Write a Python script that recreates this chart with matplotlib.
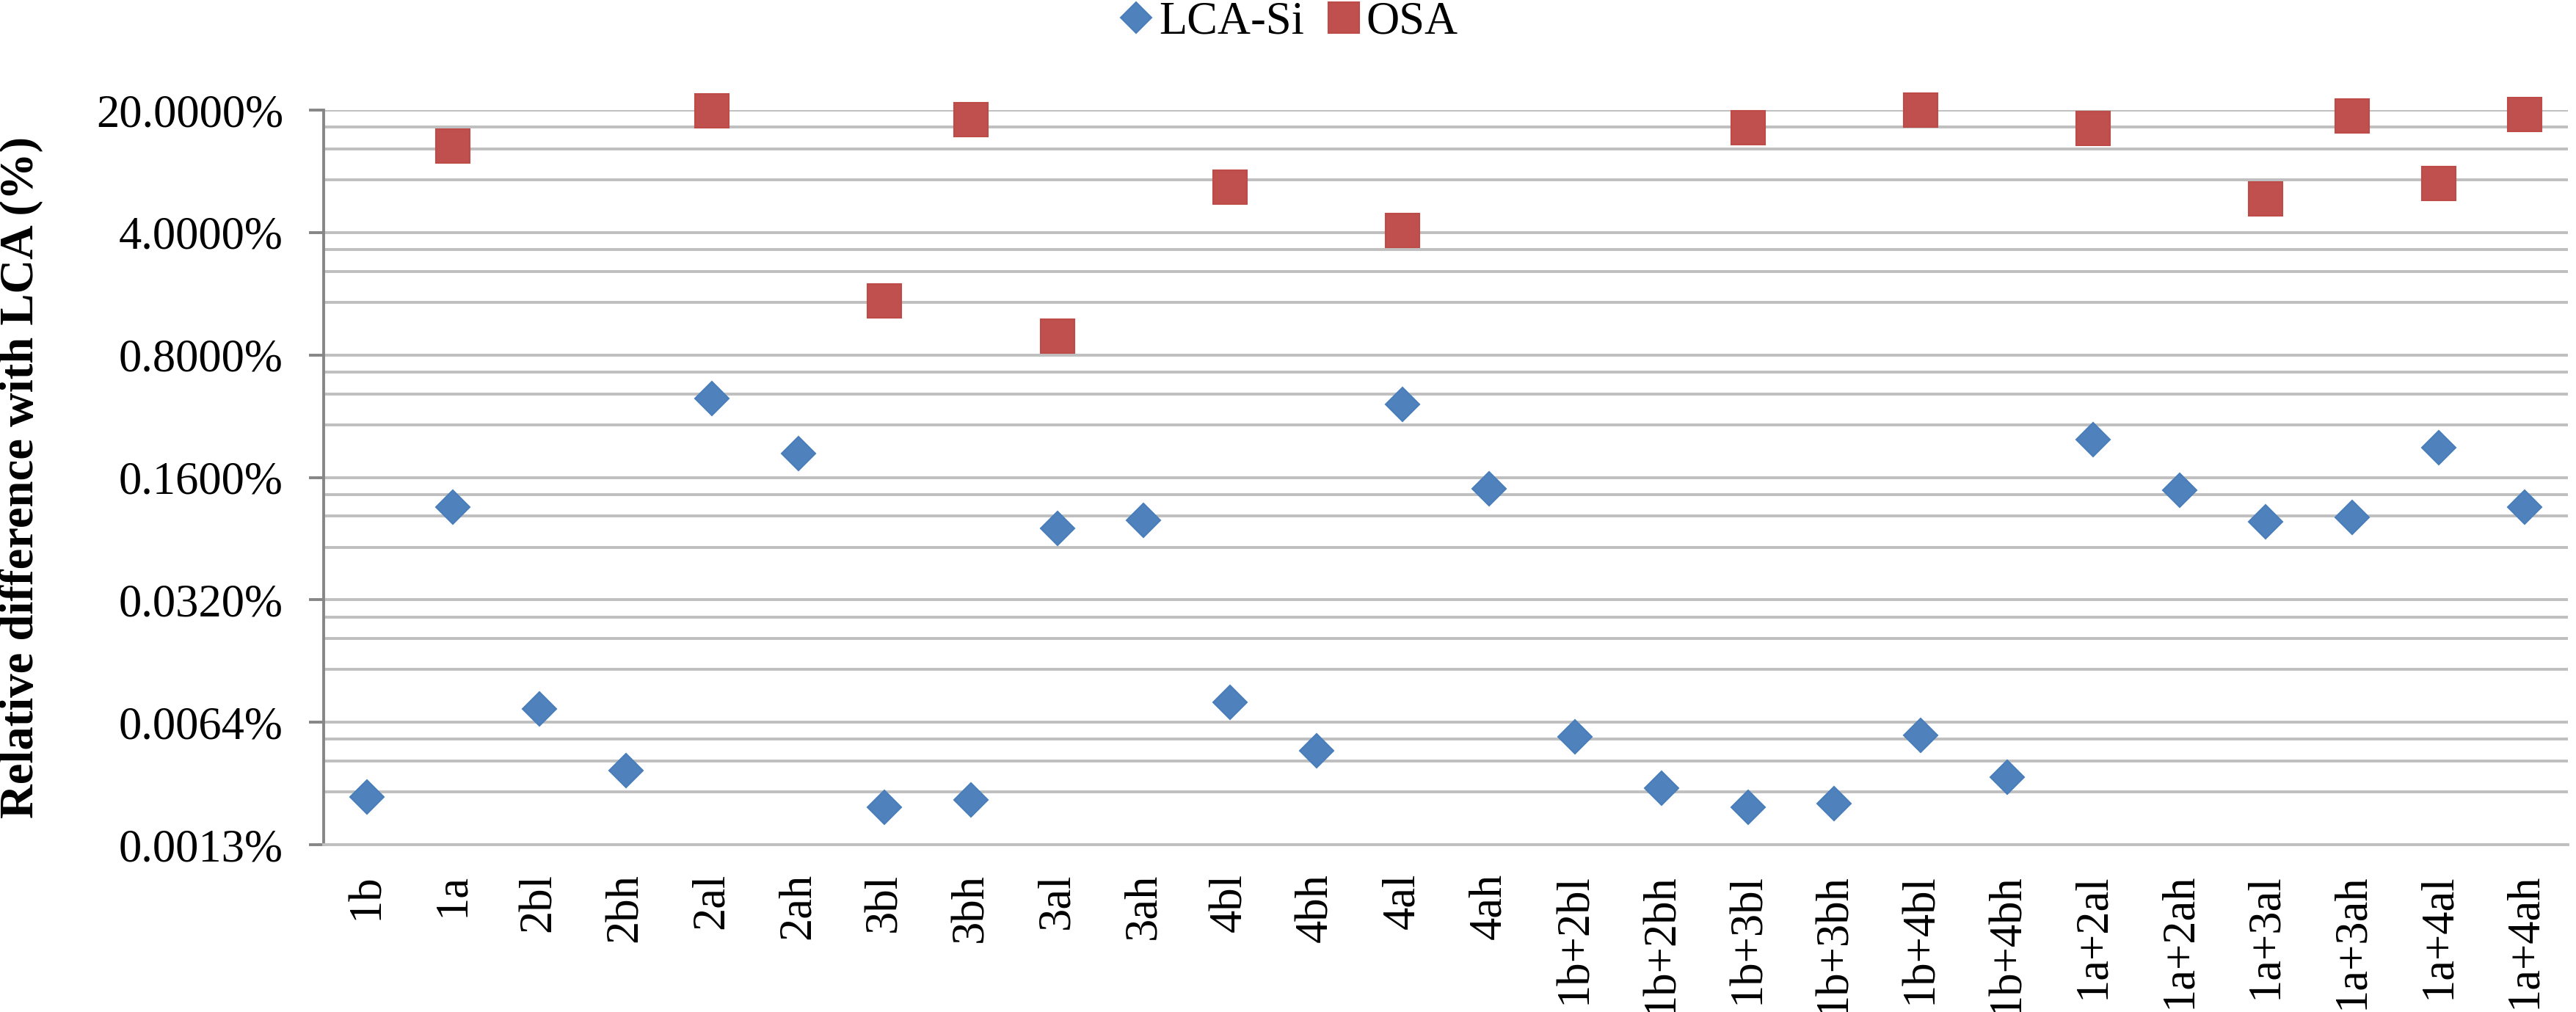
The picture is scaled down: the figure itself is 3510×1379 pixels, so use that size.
import numpy as np
import matplotlib
matplotlib.use('Agg')
from matplotlib import pyplot as plt

plt.rcParams['font.family'] = ['Liberation Serif', 'DejaVu Serif']

cases = ['1b', '1a', '2bl', '2bh', '2al', '2ah', '3bl', '3bh', '3al', '3ah',
         '4bl', '4bh', '4al', '4ah',
         '1b+2bl', '1b+2bh', '1b+3bl', '1b+3bh', '1b+4bl', '1b+4bh',
         '1a+2al', '1a+2ah', '1a+3al', '1a+3ah', '1a+4al', '1a+4ah']

# relative difference with LCA, in percent
lca_si = [0.0024, 0.108, 0.0076, 0.0034, 0.45, 0.22, 0.0021, 0.0023, 0.082, 0.091,
          0.0083, 0.0044, 0.42, 0.138,
          0.0053, 0.0027, 0.0021, 0.0022, 0.0054, 0.0031,
          0.262, 0.135, 0.089, 0.095, 0.236, 0.108]
nan = np.nan
osa = [nan, 12.5, nan, nan, 19.9, nan, 1.63, 17.6, 1.03, nan,
       7.3, nan, 4.1, nan,
       nan, nan, 15.8, nan, 20.0, nan,
       15.7, nan, 6.2, 18.5, 7.6, 18.8]

major = [0.00128, 0.0064, 0.032, 0.16, 0.8, 4.0, 20.0]
major_labels = ['0.0013%', '0.0064%', '0.0320%', '0.1600%', '0.8000%', '4.0000%', '20.0000%']

grid_c = '#BFBFBF'
axis_c = '#868686'

fig = plt.figure(figsize=(35.1, 13.79), dpi=100)
ax = fig.add_axes([0.1256, 0.1653, 0.9969 - 0.1256, 0.8912 - 0.1653])

x = np.arange(len(cases))
ax.plot(x, lca_si, linestyle='none', marker='D', markersize=23.5,
        markerfacecolor='#4F81BD', markeredgecolor='#4A7EBB', markeredgewidth=1.5,
        label='LCA-Si', zorder=3, clip_on=False)
ax.plot(x, osa, linestyle='none', marker='s', markersize=33,
        markerfacecolor='#C0504D', markeredgecolor='#BE4B48', markeredgewidth=1.5,
        label='OSA', zorder=3, clip_on=False)

ax.set_yscale('log', base=5)
ax.set_ylim(major[0], major[-1])
ax.set_xlim(-0.5, len(cases) - 0.5)

minor = []
for m in major[:-1]:
    minor += [m * 2, m * 3, m * 4]
ax.set_yticks(major)
ax.set_yticklabels(major_labels)
ax.set_yticks(minor, minor=True)
ax.yaxis.set_minor_formatter(plt.NullFormatter())

for v in major + minor:
    ax.axhline(v, color=grid_c, linewidth=2.8, zorder=1)

ax.set_xticks(x)
ax.set_xticklabels(cases, rotation=90)

ax.tick_params(axis='y', which='major', length=14.5, width=2.8, color=axis_c,
               labelsize=45, pad=25)
ax.tick_params(axis='y', which='minor', length=0)
ax.tick_params(axis='x', length=0, labelsize=45, pad=28)

for s in ['top', 'right']:
    ax.spines[s].set_visible(False)
ax.spines['bottom'].set_color(grid_c)
ax.spines['bottom'].set_linewidth(2.8)
ax.spines['left'].set_color(axis_c)
ax.spines['left'].set_linewidth(2.8)
ax.spines['left'].set_zorder(2)

ax.set_ylabel('Relative difference with LCA (%)', fontsize=46.5, fontweight='bold', va='center')
ax.yaxis.set_label_coords(-0.1347, 0.5)

fig.legend(loc='center', bbox_to_anchor=(0.5, 1 - 31 / 1379), ncol=2, frameon=False,
           fontsize=45, handlelength=0.8, handletextpad=0.1, columnspacing=0.45,
           markerscale=0.9, borderpad=0)

plt.savefig('out.png', dpi=100)
